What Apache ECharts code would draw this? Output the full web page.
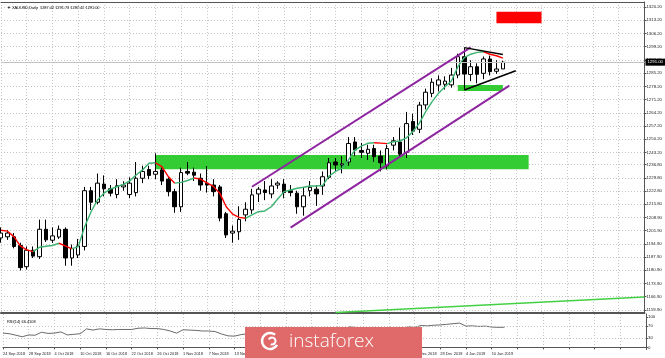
<!DOCTYPE html>
<html><head><meta charset="utf-8">
<script src="https://cdn.jsdelivr.net/npm/echarts@6/dist/echarts.min.js"></script>
<style>html,body{margin:0;padding:0;background:#fff}#c{width:665px;height:358px}</style>
</head><body><div id="c"></div>
<script>
const dates = ['24 Sep 2018','25 Sep 2018','26 Sep 2018','27 Sep 2018','28 Sep 2018','1 Oct 2018','2 Oct 2018','3 Oct 2018','4 Oct 2018','5 Oct 2018',
'8 Oct 2018','9 Oct 2018','10 Oct 2018','11 Oct 2018','12 Oct 2018','15 Oct 2018','16 Oct 2018','17 Oct 2018','18 Oct 2018','19 Oct 2018',
'22 Oct 2018','23 Oct 2018','24 Oct 2018','25 Oct 2018','26 Oct 2018','29 Oct 2018','30 Oct 2018','31 Oct 2018','1 Nov 2018','2 Nov 2018',
'5 Nov 2018','6 Nov 2018','7 Nov 2018','8 Nov 2018','9 Nov 2018','12 Nov 2018','13 Nov 2018','14 Nov 2018','15 Nov 2018','16 Nov 2018',
'19 Nov 2018','20 Nov 2018','21 Nov 2018','22 Nov 2018','23 Nov 2018','26 Nov 2018','27 Nov 2018','28 Nov 2018','29 Nov 2018','30 Nov 2018',
'3 Dec 2018','4 Dec 2018','5 Dec 2018','6 Dec 2018','7 Dec 2018','10 Dec 2018','11 Dec 2018','12 Dec 2018','13 Dec 2018','14 Dec 2018',
'17 Dec 2018','18 Dec 2018','19 Dec 2018','20 Dec 2018','21 Dec 2018','24 Dec 2018','26 Dec 2018','27 Dec 2018','28 Dec 2018','31 Dec 2018',
'2 Jan 2019','3 Jan 2019','4 Jan 2019','7 Jan 2019','8 Jan 2019','9 Jan 2019','10 Jan 2019','11 Jan 2019','14 Jan 2019'];
const opens = [1198.0,1198.6,1198.6,1194.0,1182.8,1191.5,1188.1,1202.6,1196.8,1198.5,
1202.6,1187.4,1189.0,1193.5,1223.0,1216.9,1226.5,1224.0,1221.0,1225.0,
1221.0,1222.0,1229.6,1234.2,1231.7,1234.0,1229.1,1222.5,1214.5,1233.2,
1232.8,1229.6,1227.0,1226.0,1225.0,1210.8,1200.6,1201.3,1210.2,1212.8,
1221.3,1223.4,1221.3,1226.0,1226.5,1223.0,1221.7,1214.5,1223.0,1223.8,
1225.5,1230.1,1238.2,1236.6,1238.2,1248.8,1244.3,1242.8,1245.3,1241.3,
1236.2,1247.1,1248.8,1243.3,1259.6,1255.5,1268.4,1274.5,1278.9,1279.3,
1279.0,1284.2,1293.9,1284.5,1288.6,1285.1,1292.7,1286.2,1287.42];
const closes = [1200.6,1200.6,1193.5,1182.3,1191.5,1188.4,1202.6,1197.0,1199.1,1202.6,
1187.4,1192.5,1193.8,1223.0,1216.9,1227.0,1224.0,1221.7,1225.6,1226.0,
1227.0,1229.6,1233.2,1231.1,1233.2,1228.1,1222.5,1214.5,1232.6,1232.3,
1231.2,1226.0,1226.0,1222.5,1208.5,1199.6,1201.6,1207.8,1213.2,1220.8,
1223.8,1222.0,1225.5,1227.0,1222.0,1222.0,1214.5,1220.3,1224.8,1221.3,
1230.4,1237.8,1236.6,1237.2,1248.0,1244.5,1243.3,1244.9,1241.0,1237.8,
1245.3,1249.4,1242.3,1258.5,1254.5,1268.3,1275.1,1280.4,1281.6,1281.0,
1284.2,1293.9,1284.7,1288.6,1284.6,1292.7,1286.0,1287.4,1291.00];
const lows = [1195.5,1197.0,1192.5,1180.8,1181.3,1187.4,1186.9,1195.9,1195.4,1197.5,
1183.3,1183.3,1187.4,1191.4,1212.8,1215.8,1220.0,1220.0,1219.0,1223.0,
1219.0,1220.0,1227.0,1229.1,1229.1,1226.0,1220.0,1211.3,1211.8,1231.2,
1228.1,1223.0,1222.0,1220.0,1206.8,1198.0,1195.5,1197.0,1206.8,1210.8,
1217.0,1218.0,1219.0,1224.0,1219.0,1220.0,1210.8,1209.8,1220.0,1215.0,
1220.8,1229.1,1233.2,1232.2,1236.2,1241.3,1240.3,1239.3,1238.3,1233.2,
1234.2,1244.3,1240.3,1240.3,1252.5,1253.5,1266.0,1272.5,1275.5,1276.5,
1277.5,1282.5,1276.3,1281.0,1279.8,1282.0,1284.0,1284.8,1287.42];
const highs = [1203.6,1202.2,1200.6,1195.5,1193.5,1193.5,1207.7,1207.7,1203.6,1204.6,
1203.6,1194.5,1197.5,1225.0,1225.0,1232.1,1231.1,1226.0,1229.1,1228.0,
1230.1,1238.2,1236.2,1236.2,1242.8,1235.2,1230.1,1224.0,1235.2,1238.2,
1235.2,1232.1,1236.0,1229.1,1226.0,1211.8,1204.6,1214.8,1216.9,1224.0,
1225.0,1228.1,1229.1,1228.0,1229.1,1226.0,1223.0,1225.0,1228.1,1226.0,
1233.2,1240.3,1240.3,1241.3,1251.4,1251.4,1248.3,1247.3,1247.3,1244.3,
1247.3,1251.4,1256.4,1264.7,1263.7,1270.0,1277.0,1282.5,1284.0,1283.5,
1288.0,1295.5,1298.7,1292.0,1290.4,1294.0,1294.5,1292.0,1291.73];
const maValues = [1202.1,1201.6,1198.7,1193.8,1191.7,1190.8,1193.1,1193.6,1194.0,1195.2,
1193.8,1192.2,1193.4,1203.9,1211.9,1218.1,1221.7,1223.8,1225.1,1226.4,
1228.2,1231.3,1234.0,1237.5,1237.8,1235.7,1230.5,1227.0,1227.4,1228.4,
1229.7,1229.1,1227.1,1225.3,1221.7,1214.5,1210.6,1208.9,1208.4,1210.2,
1211.9,1212.3,1214.5,1218.6,1222.5,1223.4,1224.3,1224.8,1225.5,1225.5,
1225.8,1230.8,1233.2,1234.9,1239.3,1244.5,1246.6,1248.1,1248.4,1248.2,
1247.9,1248.9,1249.3,1251.0,1254.2,1258.6,1264.8,1270.1,1274.6,1278.0,
1281.0,1288.6,1293.4,1295.2,1296.2,1296.5,1295.2,1294.4,1293.1];
const rsiValues = [47,45,40,35,41,40,50,46,47,51,
41,43,45,61,57,61,59,58,59,59,
59,63,64,62,62,59,54,47,58,57,
56,54,54,52,44,38,37,42,45,52,
53,52,55,56,52,52,46,52,55,52,
58,63,62,62,68,65,64,64,62,58,
63,65,60,68,66,72,71,73,74,76,
78,80,70,71,69,70,67,66,66.4];
const priceTicks = [1320.20,1313.20,1306.20,1299.20,1292.20,1285.20,1278.20,1271.20,1264.20,1257.20,1250.20,1243.20,
1236.80,1229.80,1222.80,1215.80,1208.90,1201.90,1194.90,1187.90,1180.90,1173.90,1166.90,1159.90];
const rsiTicks = [0,30,70,100];
const rsiLevels = [30,70];
const futureSlots = 22;
const lastPrice = 1291.00;
const titleText = '\u25BC XAUUSD,Daily  1287.42 1291.73 1287.42 1291.00';
const rsiText = 'RSI(14) 66.4108';
const watermarkText = 'instaforex';
// drawn objects, as [bar index, price]
const channelUpper = [[39,1225.1],[73,1298.8]];
const channelLower = [[45,1203.5],[79,1278.6]];
const wedgeUpper = [[72,1298.7],[78,1295.1]];
const wedgeLower = [[72,1276.3],[80,1286.5]];
const longTrend = [[52,1158.5],[100,1166.8]];
const zoneBig = [[24,1241.9],[82,1234.3]];
const zoneSmall = [[71,1278.9],[78,1275.8]];
const zoneRed = [[77,1317.7],[84,1311.6]];

const FONT = 'Liberation Sans';
const cats = dates.concat(new Array(futureSlots).fill(''));
const candles = dates.map((d,i)=>[opens[i],closes[i],lows[i],highs[i]]);
const dotted = {color:'#c4c4c4', type:[1,2], width:1};

// MA coloured runs: green rising, red falling
const maSeries = [];
let start = 0;
for (let i = 1; i < maValues.length; i++) {
  const up = maValues[i] >= maValues[i-1];
  const last = i === maValues.length - 1;
  const nextUp = last ? null : maValues[i+1] >= maValues[i];
  if (last || nextUp !== up) {
    const a = start, b = i;
    maSeries.push({type:'line', xAxisIndex:0, yAxisIndex:0, symbol:'none', silent:true, z:4,
      data: maValues.map((v,k)=> (k>=a && k<=b) ? v : '-'),
      lineStyle:{color: up ? '#3cb371' : '#ff0000', width:1.4}});
    start = i;
  }
}
function seg(pts, color, width) {
  return {type:'line', xAxisIndex:0, yAxisIndex:0, symbol:'none', silent:true, z:5,
    data: pts, lineStyle:{color, width}};
}

const chart = echarts.init(document.getElementById('c'), null, {renderer:'canvas'});
chart.setOption({
  animation:false,
  backgroundColor:'#ffffff',
  textStyle:{fontFamily:FONT},
  title:[
    {text:titleText, left:2, top:1, textStyle:{fontSize:3.9, fontWeight:'normal', color:'#000', fontFamily:FONT}},
    {text:rsiText, left:2, top:315, textStyle:{fontSize:3.9, fontWeight:'normal', color:'#000', fontFamily:FONT}}
  ],
  grid:[
    {left:1, right:19, top:2, height:311},
    {left:1, right:19, top:314, height:35.5}
  ],
  xAxis:[
    {type:'category', gridIndex:0, data:cats, boundaryGap:false,
     axisLine:{lineStyle:{color:'#555', width:2}}, axisTick:{show:false}, axisLabel:{show:false},
     splitLine:{show:true, interval:3, lineStyle:dotted}},
    {type:'category', gridIndex:1, data:cats, boundaryGap:false,
     axisLine:{lineStyle:{color:'#555', width:1}},
     axisTick:{show:true, interval:3, length:2, lineStyle:{color:'#555'}},
     axisLabel:{interval:3, align:'left', fontSize:3.9, color:'#222', margin:2, fontFamily:FONT},
     splitLine:{show:true, interval:3, lineStyle:dotted}},
    {type:'category', gridIndex:0, data:cats, boundaryGap:false, position:'top',
     axisLine:{lineStyle:{color:'#555', width:1}}, axisTick:{show:false}, axisLabel:{show:false}, splitLine:{show:false}}
  ],
  yAxis:[
    {type:'value', gridIndex:0, position:'right', min:1158.3, max:1322.84,
     axisLine:{show:true, lineStyle:{color:'#555'}},
     axisTick:{show:true, length:2, customValues:priceTicks, lineStyle:{color:'#555'}},
     axisLabel:{customValues:priceTicks, formatter:v=>v.toFixed(2), fontSize:4.3, color:'#222', margin:2, fontFamily:FONT},
     splitLine:{show:true, lineStyle:dotted}},
    {type:'value', gridIndex:1, position:'right', min:-7, max:110,
     axisLine:{show:true, lineStyle:{color:'#555'}},
     axisTick:{show:true, length:2, customValues:rsiTicks, lineStyle:{color:'#555'}},
     axisLabel:{customValues:rsiTicks, fontSize:4.3, color:'#222', margin:2, fontFamily:FONT},
     splitLine:{show:false}}
  ],
  series:[
    {type:'line', xAxisIndex:0, yAxisIndex:0, data:[], silent:true, z:1,
     markArea:{silent:true, data:[
       [{coord:zoneBig[0], itemStyle:{color:'#33cc33', opacity:1}}, {coord:zoneBig[1]}],
       [{coord:zoneSmall[0], itemStyle:{color:'#33cc33', opacity:1}}, {coord:zoneSmall[1]}],
       [{coord:zoneRed[0], itemStyle:{color:'#ff0000', opacity:1}}, {coord:zoneRed[1]}]
     ]}},
    {type:'candlestick', xAxisIndex:0, yAxisIndex:0, data:candles, barWidth:4, z:3, silent:true,
     itemStyle:{color:'#ffffff', color0:'#000000', borderColor:'#000000', borderColor0:'#000000', borderWidth:1},
     markLine:{silent:true, symbol:'none', data:[{yAxis:lastPrice}],
       lineStyle:{color:'#c0c0c0', type:'solid', width:1},
       label:{position:'end', formatter:lastPrice.toFixed(2), backgroundColor:'#000', color:'#fff',
              fontSize:4.3, padding:[1.5,2], distance:1, fontFamily:FONT}}},
    ...maSeries,
    seg(channelUpper, '#8e24a0', 2),
    seg(channelLower, '#8e24a0', 2),
    seg(wedgeUpper, '#000000', 1.5),
    seg(wedgeLower, '#000000', 1.5),
    seg(longTrend, '#44d044', 1.5),
    {type:'line', xAxisIndex:1, yAxisIndex:1, data:rsiValues, symbol:'none', silent:true,
     lineStyle:{color:'#6a6a6a', width:1},
     markLine:{silent:true, symbol:'none', label:{show:false},
       data:rsiLevels.map(v=>({yAxis:v})), lineStyle:{color:'#c4c4c4', type:[1,2], width:1}}}
  ],
  graphic:[
    {type:'rect', z:100, shape:{x:245, y:327, width:177, height:31}, style:{fill:'#e06a6a'}},
    {type:'arc', z:101, shape:{cx:270, cy:341, r:8, startAngle:0.5, endAngle:5.4}, style:{stroke:'#fff', lineWidth:2.5, fill:null}},
    {type:'arc', z:101, shape:{cx:272, cy:341, r:3.5, startAngle:3.6, endAngle:8.2}, style:{stroke:'#fff', lineWidth:2, fill:null}},
    {type:'text', z:101, style:{text:watermarkText, x:289, y:342, fill:'#ffffff',
      font:'300 19px "Open Sans"', textVerticalAlign:'middle', verticalAlign:'middle'}}
  ]
});
</script></body></html>
